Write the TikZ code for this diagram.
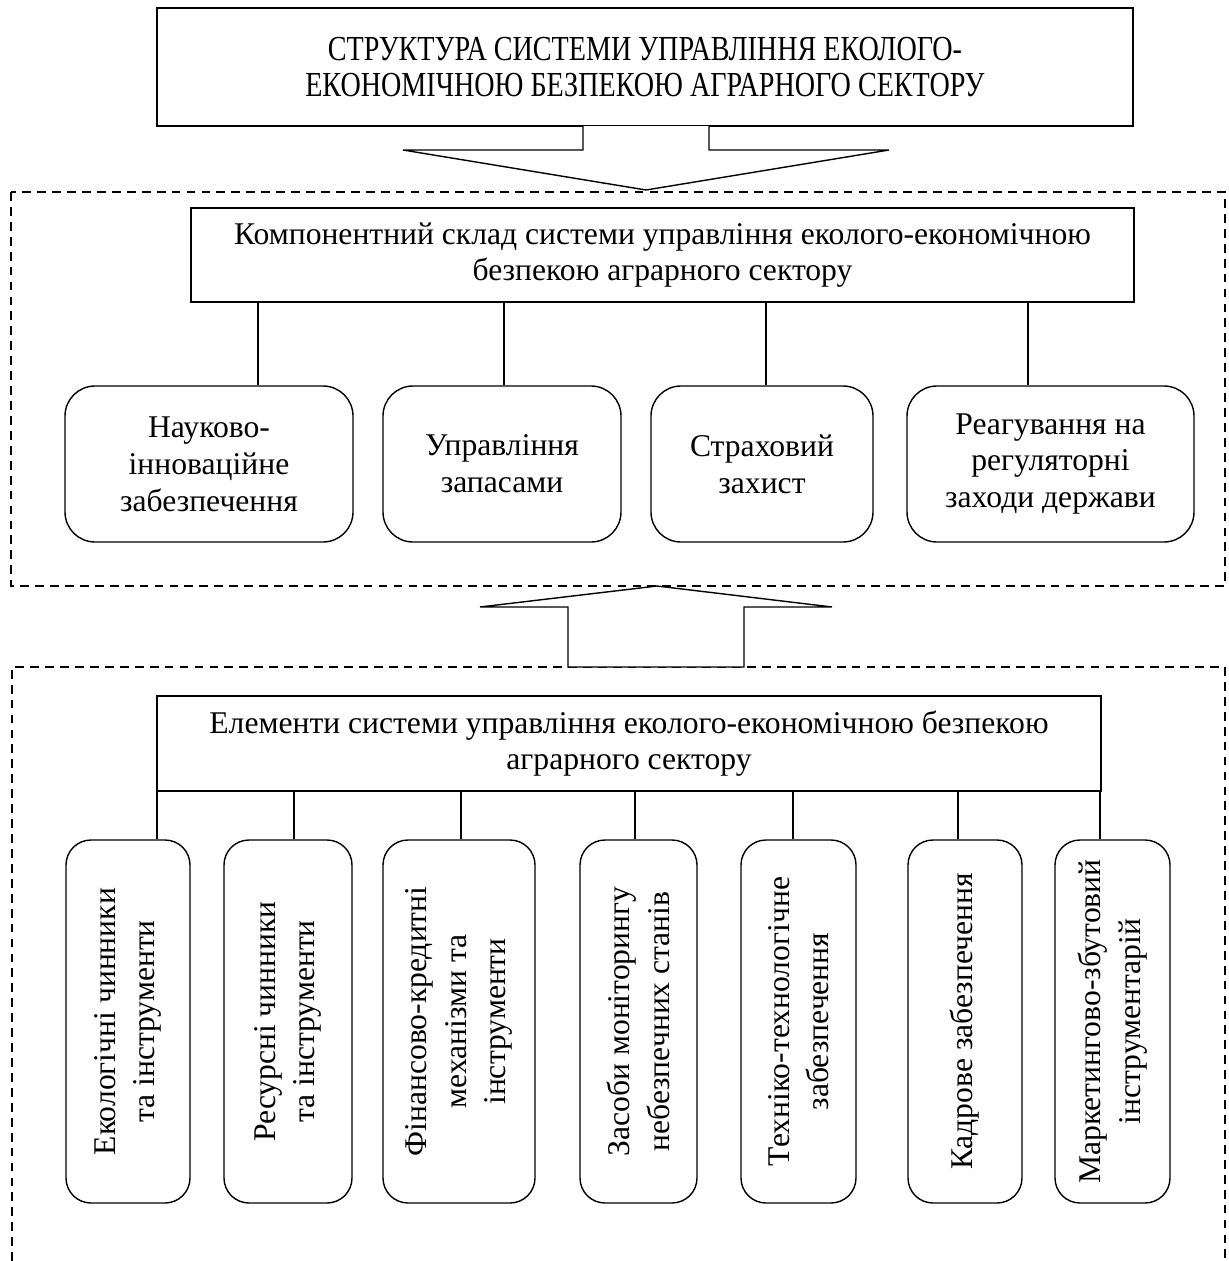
\documentclass[tikz,border=0pt]{standalone}
\usepackage{fontspec}
\setmainfont{Liberation Serif}
\newfontfamily\narrowfont[FakeStretch=0.8]{Liberation Serif}
\usepackage{tikz}
\usetikzlibrary{positioning}
\newdimen\px \px=0.02cm

\begin{document}
\begin{tikzpicture}[x=0.02cm,y=-0.02cm,line width=0.8pt,
  plainbox/.style={draw,rectangle,align=center,inner sep=0pt,font=\fontsize{18}{20.5}\selectfont},
  roundbox/.style={draw,rounded corners=0.6cm,align=center,inner sep=0pt,minimum height=156\px,font=\fontsize{18}{21}\selectfont},
  sidebox/.style={draw,rounded corners=0.5cm,align=center,inner sep=0pt,rotate=90,minimum width=363\px,font=\fontsize{18}{22.4}\selectfont},
  dashframe/.style={dash pattern=on 5pt off 3.5pt,line width=0.7pt},
  blockarrow/.style={draw,fill=white}]
  \useasboundingbox (0,0) rectangle (1228,1261);

  % top title and arrow into the first frame
  \node[plainbox,minimum width=976\px,minimum height=118\px,font=\narrowfont\fontsize{20}{20.5}\selectfont] (title) at (645,67)
    {СТРУКТУРА СИСТЕМИ УПРАВЛІННЯ ЕКОЛОГО-\\ЕКОНОМІЧНОЮ БЕЗПЕКОЮ АГРАРНОГО СЕКТОРУ};
  \draw[dashframe] (11,192) rectangle (1225,586);
  \draw[dashframe] (12,1261) -- (12,667) -- (1225,667) -- (1225,1261);
  \path[blockarrow] (583,126) -- (583,150) -- (403,150) -- (646,190) -- (889,150) -- (709,150) -- (709,126);
  \path[blockarrow] (568,667) -- (568,607) -- (480,607) -- (657,586) -- (832,607) -- (744,607) -- (744,667) -- cycle;

  % components
  \node[plainbox,minimum width=943\px,minimum height=94\px] (comp) at (662.5,255)
    {Компонентний склад системи управління еколого-економічною\\безпекою аграрного сектору};
  \node[roundbox,minimum width=288\px] (nauk) at (209,464) {Науково-\\інноваційне\\забезпечення};
  \node[roundbox,minimum width=238\px] (zapas) at (502,464) {Управління\\запасами};
  \node[roundbox,minimum width=222\px] (strakh) at (762,464) {Страховий\\захист};
  \node[roundbox,minimum width=287\px] (reag) at (1050.5,464) {Реагування на\\регуляторні\\заходи держави};
  \foreach \n/\x in {nauk/258,zapas/504,strakh/766,reag/1028}{
    \coordinate (cx) at (\x,0);
    \draw (comp.south -| cx) -- (\n.north -| cx);
  }

  % elements
  \node[plainbox,minimum width=944\px,minimum height=95\px] (elem) at (629,743.5)
    {Елементи системи управління еколого-економічною безпекою\\аграрного сектору};
  \node[sidebox,minimum height=124\px] (ekol) at (128,1021.5) {Екологічні чинники\\та інструменти};
  \node[sidebox,minimum height=128\px] (resurs) at (288,1021.5) {Ресурсні чинники\\та інструменти};
  \node[sidebox,minimum height=152\px] (finans) at (459,1021.5) {Фінансово-кредитні\\механізми та\\інструменти};
  \node[sidebox,minimum height=117\px] (monit) at (638.5,1021.5) {Засоби моніторингу\\небезпечних станів};
  \node[sidebox,minimum height=115\px] (tekhn) at (798.5,1021.5) {Техніко-технологічне\\забезпечення};
  \node[sidebox,minimum height=114\px] (kadr) at (965,1021.5) {Кадрове забезпечення};
  \node[sidebox,minimum height=115\px] (market) at (1112.5,1021.5) {Маркетингово-збутовий\\інструментарій};
  \foreach \n/\x in {ekol/157,resurs/294,finans/461,monit/635,tekhn/793,kadr/958,market/1100}{
    \coordinate (cx) at (\x,0);
    \draw (elem.south -| cx) -- (\n.east -| cx);
  }
\end{tikzpicture}
\end{document}
